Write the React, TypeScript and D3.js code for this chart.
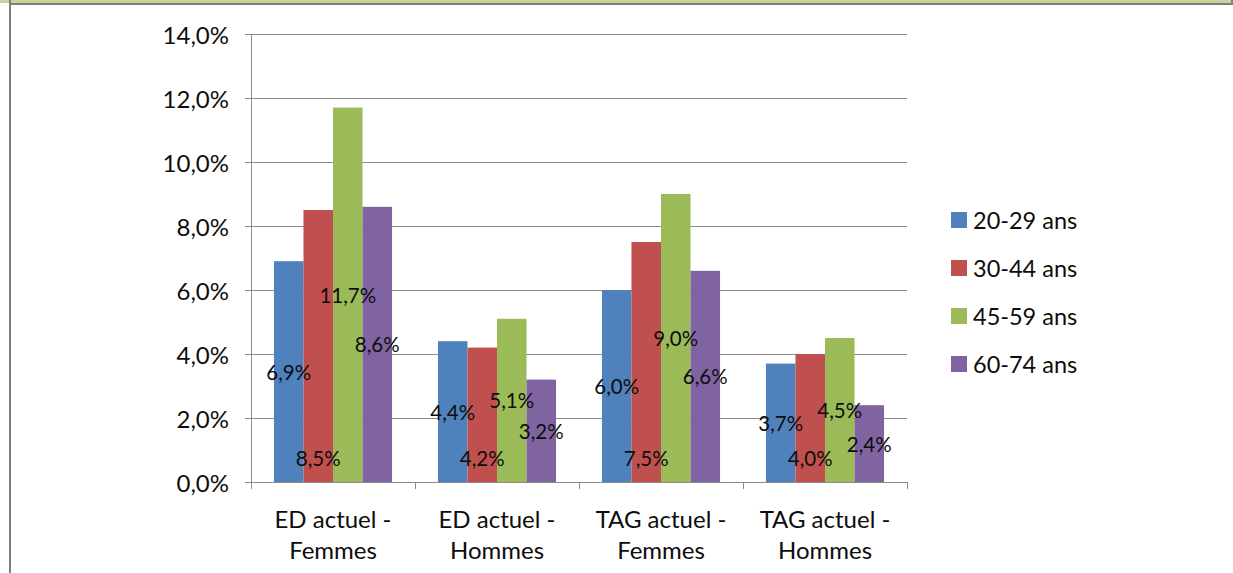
import React from "react";
import * as d3 from "d3";

const categories = [["ED actuel -", "Femmes"], ["ED actuel -", "Hommes"], ["TAG actuel -", "Femmes"], ["TAG actuel -", "Hommes"]];
const seriesNames = ["20-29 ans", "30-44 ans", "45-59 ans", "60-74 ans"];
const seriesColors = ["#4F81BD", "#C0504D", "#9BBB59", "#8064A2"];
const s2029 = [6.9, 4.4, 6.0, 3.7];
const s3044 = [8.5, 4.2, 7.5, 4.0];
const s4559 = [11.7, 5.1, 9.0, 4.5];
const s6074 = [8.6, 3.2, 6.6, 2.4];
const labelPlacement = ["center", "base", "center", "center"];
const yTicks = [0, 2, 4, 6, 8, 10, 12, 14];

const seriesValues = [s2029, s3044, s4559, s6074];
const FONT = "Lato, 'Open Sans', sans-serif";
const fmt = (v: number) => v.toFixed(1).replace(".", ",") + "%";

export default function App() {
  const W = 1233, H = 573;
  const left = 251, right = 907, top = 34, bottom = 482;
  const y = d3.scaleLinear().domain([0, 14]).range([bottom, top]);
  const x0 = d3.scaleBand<number>().domain(categories.map((_, i) => i)).range([left, right]).padding(0);
  const bw = x0.bandwidth();
  const x1 = d3.scaleBand<number>().domain(seriesNames.map((_, i) => i)).range([bw * 0.14, bw * 0.86]).padding(0);
  const grid = "#8c8c8c";
  const txt = "#0d0d0d";

  return (
    <svg width={W} height={H} style={{ position: "absolute", left: 0, top: 0, background: "#fff" }} fontFamily={FONT}>
      <rect x={0} y={0} width={W} height={H} fill="#fff" />
      {/* frame */}
      <rect x={0} y={0} width={W} height={3} fill="#C3D69B" />
      <rect x={10} y={3} width={W - 10} height={2} fill="#7f7f7f" />
      <rect x={1231} y={0} width={2} height={5} fill="#7f7f7f" />
      <rect x={9} y={0} width={2} height={H} fill="#7f7f7f" />

      {/* gridlines and y ticks */}
      {yTicks.map((t) => (
        <g key={t}>
          <line x1={245} x2={right} y1={Math.round(y(t)) + 0.5} y2={Math.round(y(t)) + 0.5} stroke={grid} strokeWidth={1} />
          <text x={229} y={y(t)} textAnchor="end" dominantBaseline="central" fontSize={24} fill={txt}>
            {fmt(t)}
          </text>
        </g>
      ))}
      {/* y axis line */}
      <line x1={left + 0.5} x2={left + 0.5} y1={top} y2={bottom + 7} stroke={grid} />
      {/* category ticks */}
      {d3.range(categories.length + 1).map((i) => {
        const xx = i < categories.length ? x0(i)! : right;
        return <line key={i} x1={Math.round(xx) + 0.5} x2={Math.round(xx) + 0.5} y1={bottom} y2={bottom + 7} stroke={grid} />;
      })}

      {/* bars */}
      {categories.map((_, ci) => (
        <g key={ci} transform={`translate(${x0(ci)},0)`}>
          {seriesValues.map((vals, si) => (
            <rect key={si} x={x1(si)} y={y(vals[ci])} width={x1.bandwidth()} height={y(0) - y(vals[ci])} fill={seriesColors[si]} />
          ))}
        </g>
      ))}
      {/* x axis line */}
      <line x1={245} x2={right} y1={bottom + 0.5} y2={bottom + 0.5} stroke={grid} />

      {/* data labels */}
      {categories.map((_, ci) => (
        <g key={ci} transform={`translate(${x0(ci)},0)`}>
          {seriesValues.map((vals, si) => {
            const v = vals[ci];
            const ly = labelPlacement[si] === "base" ? y(0) - 24 : (y(v) + y(0)) / 2;
            return (
              <text key={si} x={x1(si)! + x1.bandwidth() / 2} y={ly} textAnchor="middle" dominantBaseline="central" fontSize={20.5} fill={txt}>
                {fmt(v)}
              </text>
            );
          })}
        </g>
      ))}

      {/* category labels */}
      {categories.map((lines, ci) => (
        <g key={ci}>
          {lines.map((ln, li) => (
            <text key={li} x={x0(ci)! + bw / 2} y={518 + li * 31} textAnchor="middle" dominantBaseline="central" fontSize={24} fill={txt}>
              {ln}
            </text>
          ))}
        </g>
      ))}

      {/* legend */}
      {seriesNames.map((n, i) => (
        <g key={n} transform={`translate(951,${220 + i * 48})`}>
          <rect x={0} y={-8} width={16} height={16} fill={seriesColors[i]} />
          <text x={22} y={0} dominantBaseline="central" fontSize={23.5} fill={txt}>
            {n}
          </text>
        </g>
      ))}
    </svg>
  );
}
